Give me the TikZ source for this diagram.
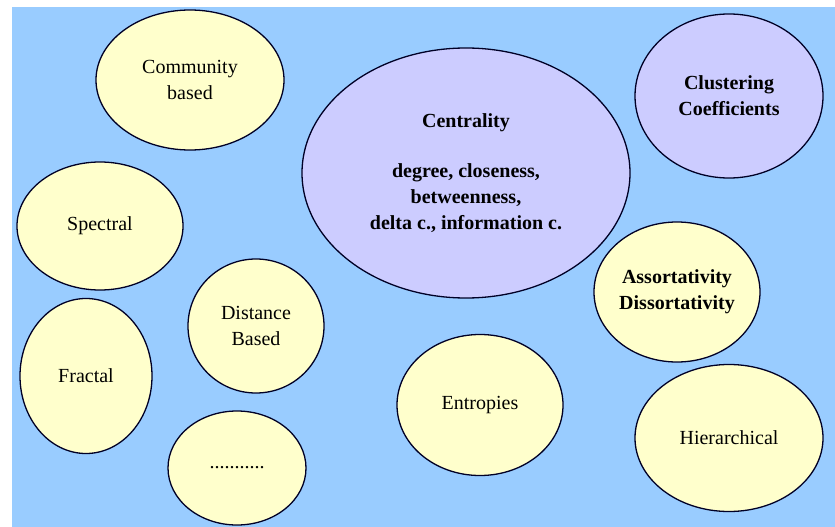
\documentclass[tikz,border=0pt]{standalone}
\usepackage{fontspec}
\setmainfont{Liberation Serif}
\usetikzlibrary{shapes.geometric}
\definecolor{bgblue}{HTML}{99CCFF}
\definecolor{paleyellow}{HTML}{FFFFCC}
\definecolor{palepurple}{HTML}{CCCCFF}
\tikzset{
  bubble/.style={ellipse,draw=black!85!blue,line width=1.3pt,fill=paleyellow,
    inner sep=0pt,align=center,font=\fontsize{20}{26}\selectfont},
  boldbubble/.style={bubble,font=\fontsize{20}{26}\selectfont\bfseries},
  keybubble/.style={boldbubble,fill=palepurple}
}
\begin{document}
\begin{tikzpicture}[x=1pt,y=-1pt]
    \useasboundingbox (0,0) rectangle (835,527);
    %Background
    \fill[white] (0,0) rectangle (835,527);
    \fill[bgblue] (12,7) rectangle (835,527);
    %Community
    \node[bubble,minimum width=188pt,minimum height=140pt] (community) at (190,80) {Community\\based};
    %Centrality
    \node[keybubble,minimum width=328pt,minimum height=250pt] (centrality) at (466,173) {Centrality\\[24pt]degree, closeness,\\betweenness,\\delta c., information c.};
    %Clustering
    \node[keybubble,minimum width=188pt,minimum height=164pt] (clustering) at (729,96) {Clustering\\Coefficients};
    %Spectral
    \node[bubble,minimum width=166pt,minimum height=128pt] (spectral) at (100,226) {Spectral};
    %Distance
    \node[bubble,minimum width=136pt,minimum height=134pt] (distance) at (256,326) {Distance\\Based};
    %Fractal
    \node[bubble,minimum width=132pt,minimum height=155pt] (fractal) at (86,376) {Fractal};
    %Others
    \node[bubble,minimum width=138pt,minimum height=114pt] (others) at (237,468) {...........};
    %Entropies
    \node[bubble,minimum width=166pt,minimum height=141pt] (entropies) at (480,405) {Entropies};
    %Assortativity
    \node[boldbubble,minimum width=166pt,minimum height=140pt] (assortativity) at (677,292) {Assortativity\\Dissortativity};
    %Hierarchical
    \node[bubble,minimum width=188pt,minimum height=147pt] (hierarchical) at (729,438) {Hierarchical};
\end{tikzpicture}
\end{document}
